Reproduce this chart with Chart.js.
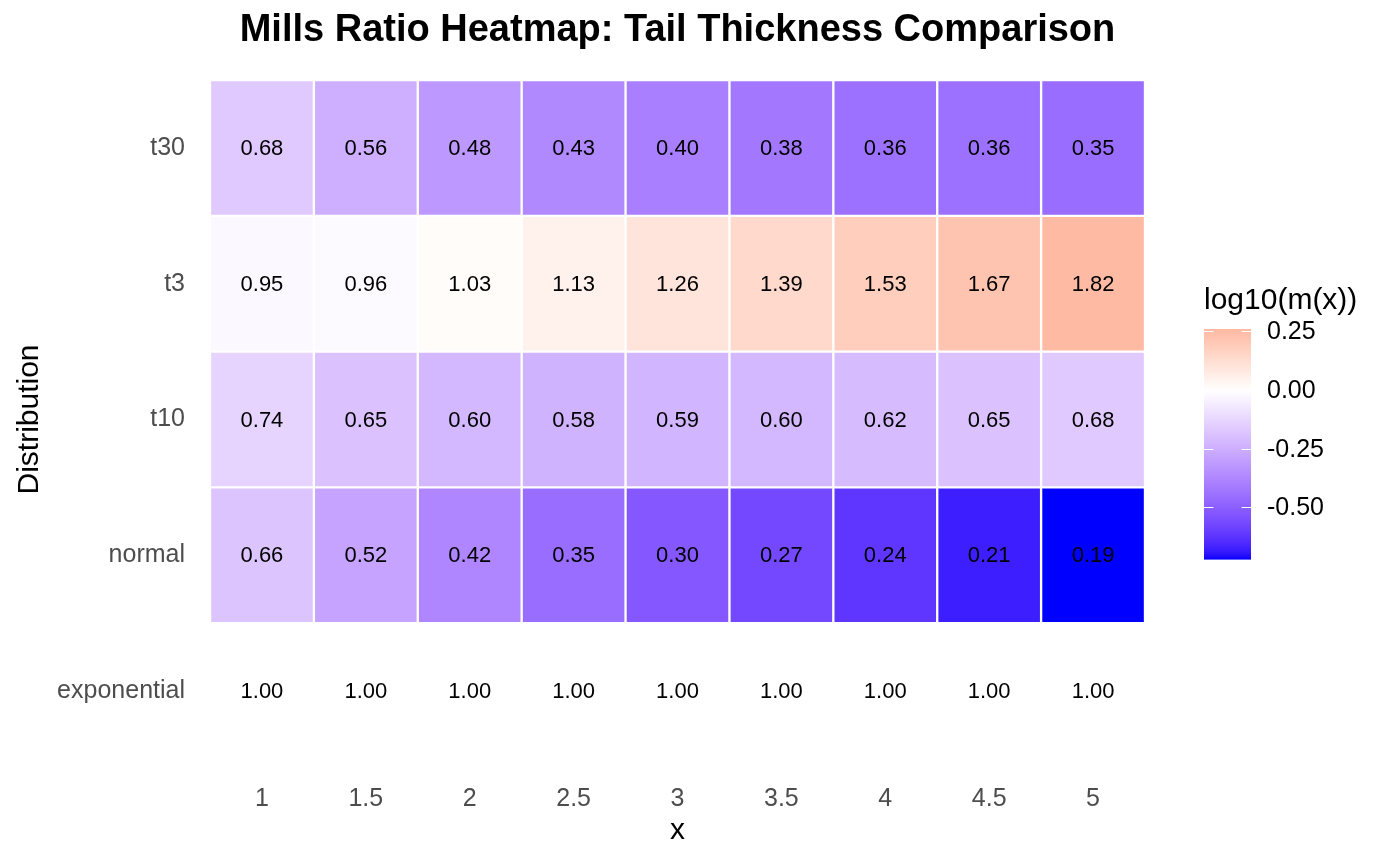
<!DOCTYPE html>
<html>
<head>
<meta charset="utf-8">
<script src="https://cdn.jsdelivr.net/npm/chart.js@4.4.1/dist/chart.umd.min.js"></script>
<style>
  html, body { margin: 0; padding: 0; background: #fff; }
  #wrap { width: 1400px; height: 866px; }
</style>
</head>
<body>
<div id="wrap"><canvas id="heat" width="1400" height="866"></canvas></div>
<script>
const xLabels = ["1", "1.5", "2", "2.5", "3", "3.5", "4", "4.5", "5"];
// rows from bottom to top
const rowNames = ["exponential", "normal", "t10", "t3", "t30"];
const millsExponential = [1.00, 1.00, 1.00, 1.00, 1.00, 1.00, 1.00, 1.00, 1.00];
const millsNormal = [0.66, 0.52, 0.42, 0.35, 0.30, 0.27, 0.24, 0.21, 0.19];
const millsT10 = [0.74, 0.65, 0.60, 0.58, 0.59, 0.60, 0.62, 0.65, 0.68];
const millsT3 = [0.95, 0.96, 1.03, 1.13, 1.26, 1.39, 1.53, 1.67, 1.82];
const millsT30 = [0.68, 0.56, 0.48, 0.43, 0.40, 0.38, 0.36, 0.36, 0.35];
const legendTicks = [0.25, 0, -0.25, -0.5];

const series = [millsExponential, millsNormal, millsT10, millsT3, millsT30];
const FONT = "'Liberation Sans', Arial, Helvetica, sans-serif";
const TITLE = "Mills Ratio Heatmap: Tail Thickness Comparison";

// --- colour scale: blue / white / red, interpolated in Lab like ggplot's gradient2
function toLin(c) { c /= 255; return c <= 0.04045 ? c / 12.92 : Math.pow((c + 0.055) / 1.055, 2.4); }
function fromLin(c) { c = c <= 0.0031308 ? 12.92 * c : 1.055 * Math.pow(c, 1 / 2.4) - 0.055; return Math.max(0, Math.min(255, Math.round(c * 255))); }
function rgbToLab(rgb) {
    let r = toLin(rgb[0]), g = toLin(rgb[1]), b = toLin(rgb[2]);
    let x = (0.4124 * r + 0.3576 * g + 0.1805 * b) / 0.95047;
    let y = (0.2126 * r + 0.7152 * g + 0.0722 * b);
    let z = (0.0193 * r + 0.1192 * g + 0.9505 * b) / 1.08883;
    const f = t => t > 0.008856 ? Math.cbrt(t) : 7.787 * t + 16 / 116;
    let fx = f(x), fy = f(y), fz = f(z);
    return [116 * fy - 16, 500 * (fx - fy), 200 * (fy - fz)];
}
function labToRgb(lab) {
    let fy = (lab[0] + 16) / 116, fx = fy + lab[1] / 500, fz = fy - lab[2] / 200;
    const fi = t => t > 0.206893 ? t * t * t : (t - 16 / 116) / 7.787;
    let x = fi(fx) * 0.95047, y = fi(fy), z = fi(fz) * 1.08883;
    let r = 3.2406 * x - 1.5372 * y - 0.4986 * z;
    let g = -0.9689 * x + 1.8758 * y + 0.0415 * z;
    let b = 0.0557 * x - 0.2040 * y + 1.0570 * z;
    return [fromLin(r), fromLin(g), fromLin(b)];
}
const labLow = rgbToLab([0, 0, 255]), labMid = rgbToLab([255, 255, 255]), labHigh = rgbToLab([255, 0, 0]);

const allLogs = series.flat().map(v => Math.log10(v));
const vMin = Math.min(...allLogs), vMax = Math.max(...allLogs);
const vAbs = Math.max(Math.abs(vMin), Math.abs(vMax));

function colorForLog(v) {
    let t = 0.5 + v / (2 * vAbs);
    t = Math.max(0, Math.min(1, t));
    let a, b, u;
    if (t < 0.5) { a = labLow; b = labMid; u = t / 0.5; }
    else { a = labMid; b = labHigh; u = (t - 0.5) / 0.5; }
    let lab = [0, 1, 2].map(i => a[i] + (b[i] - a[i]) * u);
    let rgb = labToRgb(lab);
    return `rgb(${rgb[0]}, ${rgb[1]}, ${rgb[2]})`;
}

// --- title centred over the panel, cell labels
const cellText = {
    id: "cellText",
    afterDatasetsDraw(chart) {
        const ctx = chart.ctx, xs = chart.scales.x, ys = chart.scales.y;
        ctx.save();
        ctx.font = `22px ${FONT}`;
        ctx.fillStyle = "#000";
        ctx.textAlign = "center";
        ctx.textBaseline = "middle";
        series.forEach((vals, r) => {
            vals.forEach((v, j) => {
                ctx.fillText(v.toFixed(2), xs.getPixelForValue(j), ys.getPixelForValue(r) + 1);
            });
        });
        ctx.font = `bold 38px ${FONT}`;
        ctx.fillText(TITLE, (chart.chartArea.left + chart.chartArea.right) / 2, 31);
        ctx.restore();
    }
};

// --- colourbar legend
const colorBar = {
    id: "colorBar",
    afterDraw(chart) {
        const ctx = chart.ctx;
        const left = chart.chartArea.right + 59, w = 47;
        const top = 329, bottom = 559;
        const yOf = v => bottom - (v - vMin) / (vMax - vMin) * (bottom - top);
        ctx.save();
        const steps = 230;
        for (let i = 0; i < steps; i++) {
            let v0 = vMin + (vMax - vMin) * i / steps;
            let v1 = vMin + (vMax - vMin) * (i + 1) / steps;
            ctx.fillStyle = colorForLog((v0 + v1) / 2);
            ctx.fillRect(left, yOf(v1), w, yOf(v0) - yOf(v1) + 0.6);
        }
        ctx.strokeStyle = "#fff";
        ctx.lineWidth = 1;
        ctx.font = `25px ${FONT}`;
        ctx.fillStyle = "#000";
        ctx.textAlign = "left";
        ctx.textBaseline = "middle";
        legendTicks.forEach(t => {
            let y = Math.round(yOf(t)) + 0.5;
            ctx.beginPath();
            ctx.moveTo(left, y); ctx.lineTo(left + w / 5, y);
            ctx.moveTo(left + w - w / 5, y); ctx.lineTo(left + w, y);
            ctx.stroke();
            ctx.fillText(t.toFixed(2), left + 63, y + 1);
        });
        ctx.font = `30px ${FONT}`;
        ctx.textBaseline = "alphabetic";
        ctx.fillText("log10(m(x))", left, 309);
        ctx.restore();
    }
};

const datasets = rowNames.map((name, r) => ({
    label: name,
    data: series[r].map(() => [r - 0.5, r + 0.5]),
    backgroundColor: series[r].map(v => colorForLog(Math.log10(v))),
    borderColor: "#ffffff",
    borderWidth: 1.5,
    borderSkipped: false,
    grouped: false,
    barPercentage: 1,
    categoryPercentage: 1
}));

new Chart(document.getElementById("heat").getContext("2d"), {
    type: "bar",
    data: { labels: xLabels, datasets: datasets },
    options: {
        responsive: false,
        animation: false,
        layout: { padding: { left: 0, right: 255, top: 80, bottom: 0 } },
        plugins: {
            legend: { display: false },
            tooltip: { enabled: false },
            title: { display: false }
        },
        scales: {
            x: {
                type: "category",
                offset: true,
                grid: { display: false, drawTicks: false },
                border: { display: false },
                ticks: { color: "#4D4D4D", font: { family: FONT, size: 25 }, padding: 25, maxRotation: 0 },
                title: { display: true, text: "x", color: "#000", font: { family: FONT, size: 30 }, padding: { top: 0, bottom: 17 } },
                afterFit: s => { s.height = 107; }
            },
            y: {
                type: "linear",
                min: -0.5,
                max: rowNames.length - 0.5,
                grid: { display: false, drawTicks: false },
                border: { display: false },
                afterBuildTicks: s => { s.ticks = rowNames.map((n, i) => ({ value: i })); },
                ticks: {
                    color: "#4D4D4D",
                    font: { family: FONT, size: 25 },
                    padding: 25,
                    callback: v => rowNames[v]
                },
                title: { display: true, text: "Distribution", color: "#000", font: { family: FONT, size: 30 }, padding: { top: 12, bottom: 0 } },
                afterFit: s => { s.width = 210; }
            }
        }
    },
    plugins: [cellText, colorBar]
});
</script>
</body>
</html>
